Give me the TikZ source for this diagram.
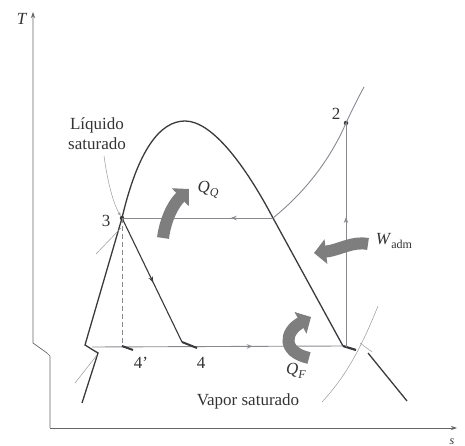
\documentclass[tikz,border=0pt]{standalone}
\usepackage{fontspec}
\setmainfont{Liberation Serif}
\usetikzlibrary{arrows.meta,decorations.markings}
\definecolor{inkgray}{HTML}{3A3A3A}
\definecolor{cyclegray}{HTML}{8A8794}
\definecolor{heatgray}{HTML}{7E7E7E}
\newcommand{\sublbl}[2]{\textit{#1}\raisebox{-0.45ex}{\fontsize{12}{12}\selectfont #2}}

\begin{document}
\begin{tikzpicture}[x=1pt,y=-1pt,
  dome/.style={draw=inkgray,line width=1.3pt},
  cycline/.style={draw=cyclegray,line width=0.9pt},
  thinline/.style={draw=black!40,line width=0.5pt},
  axisline/.style={draw=black!60,line width=0.7pt},
  heatarrow/.style={draw=heatgray,line width=12pt,-{Triangle[length=12pt,width=24pt]}},
  midarrow/.style={postaction={decorate},decoration={markings,
    mark=at position #1 with {\arrow{Stealth[length=6pt,width=4.5pt]}}}},
  lbl/.style={text=black!80,font=\fontsize{17}{20}\selectfont,inner sep=1pt},
  statedot/.style={circle,fill=inkgray,inner sep=0pt,minimum size=4.5pt}
]
\useasboundingbox (0,0) rectangle (465,446);

% axes (with the scan shift near the corner)
\coordinate (tTop) at (33,12);
\coordinate (tBend) at (33,343);
\coordinate (tShift) at (47,353);
\coordinate (orig) at (50,356);
\coordinate (sCorner) at (50,428);
\coordinate (sEnd) at (457,428);
\draw[axisline,-{Stealth[length=6pt,width=4pt]}] (sCorner) -- (orig) -- (tShift) -- (tBend) -- (tTop);
\draw[axisline,-{Stealth[length=6pt,width=4pt]}] (sCorner) -- (sEnd);
\node[lbl] (tlabel) at (22,19) {\textit{T}};
\node[lbl,font=\fontsize{12}{12}\selectfont] (slabel) at (452,442) {\textit{s}};

% states
\node[statedot] (s3) at (122,218) {};
\node[statedot] (s2) at (346,123) {};
\coordinate (s4p) at (122,346);
\coordinate (s4) at (182,342);
\coordinate (s1) at (343,346);
\coordinate (v1) at (346,347);
\coordinate (b0) at (92,347);
\coordinate (satV) at (273,218);
\coordinate (crit) at (185,121);
\coordinate (hiEnd) at (364,87);

% saturation dome
\coordinate (lowL) at (82,403);
\coordinate (gl1) at (98,353);
\coordinate (gl2) at (93,350);
\coordinate (gl3) at (85,345);
\coordinate (gR1) at (356,350);
\coordinate (gR2) at (360,343);
\coordinate (gR3) at (372,352);
\coordinate (gR4) at (368,353);
\coordinate (lowR) at (407,401);
\draw[dome] (lowL) -- (gl1) -- (gl2) -- (gl3) -- (s3.center)
  .. controls (138,150) and (160,121) .. (crit)
  .. controls (212,121) and (245,165) .. (satV) -- (s1);
\draw[dome,line width=2.2pt] (s1) -- (gR1);
\draw[thinline] (gR2) -- (gR3);
\draw[dome] (gR4) -- (lowR);

% cycle
\draw[cycline,midarrow=0.28] (satV) -- (s3.center);
\draw[cycline,midarrow=0.58] (v1) -- (s2.center);
\draw[cycline] (satV) .. controls (305,192) and (330,160) .. (s2.center)
  .. controls (352,110) and (358,98) .. (hiEnd);
\draw[dome,line width=1.1pt,midarrow=0.52] (s3.center) -- (s4);
\draw[cycline,dashed,dash pattern=on 5pt off 3pt] (s3.center) -- (s4p);
\draw[cycline,midarrow=0.64] (b0) -- (s1);
\coordinate (g4p) at (133,350);
\coordinate (g4) at (197,348);
\draw[dome,line width=2pt] (s4p) -- (g4p);
\draw[dome,line width=2pt] (s4) -- (g4);

% thin isobars and leaders
\coordinate (liqLead) at (104,156);
\coordinate (isoA) at (96,254);
\coordinate (isoB) at (121,228);
\coordinate (isoC) at (75,383);
\coordinate (isoD) at (97,355);
\coordinate (vapLead) at (322,402);
\coordinate (isoE) at (378,306);
\draw[thinline,-{Stealth[length=4pt,width=3pt]}] (liqLead) .. controls (108,185) and (114,205) .. (s3);
\draw[thinline] (isoA) -- (isoB);
\draw[thinline] (isoC) -- (isoD);
\draw[thinline] (vapLead) .. controls (350,372) and (365,338) .. (isoE);

% heat and work arrows
\coordinate (qqStart) at (163,238);
\coordinate (qqTip) at (189,189);
\coordinate (wStart) at (368,244);
\coordinate (wTip) at (314,253);
\coordinate (qfStart) at (309,358);
\coordinate (qfTip) at (311,317);
\draw[heatarrow] (qqStart) .. controls (165,222) and (172,205) .. (qqTip);
\draw[heatarrow] (wStart) .. controls (352,241) and (340,250) .. (wTip);
\draw[heatarrow] (qfStart) .. controls (282,352) and (284,332) .. (qfTip);

% labels
\node[lbl] (lab3) at (106,221) {3};
\node[lbl] (lab2) at (336,114) {2};
\node[lbl] (lab4p) at (141,363) {4'};
\node[lbl] (lab4) at (201,363) {4};
\node[lbl,align=center] (liq) at (97,134) {Líquido\\saturado};
\node[lbl] (vap) at (248,401) {Vapor saturado};
\node[lbl] (qq) at (208,190) {\sublbl{\textit{Q}}{\textit{Q}}};
\node[lbl] (wadm) at (394,241) {\sublbl{\textit{W}}{adm}};
\node[lbl] (qf) at (296,371) {\sublbl{\textit{Q}}{\textit{F}}};
\end{tikzpicture}
\end{document}
